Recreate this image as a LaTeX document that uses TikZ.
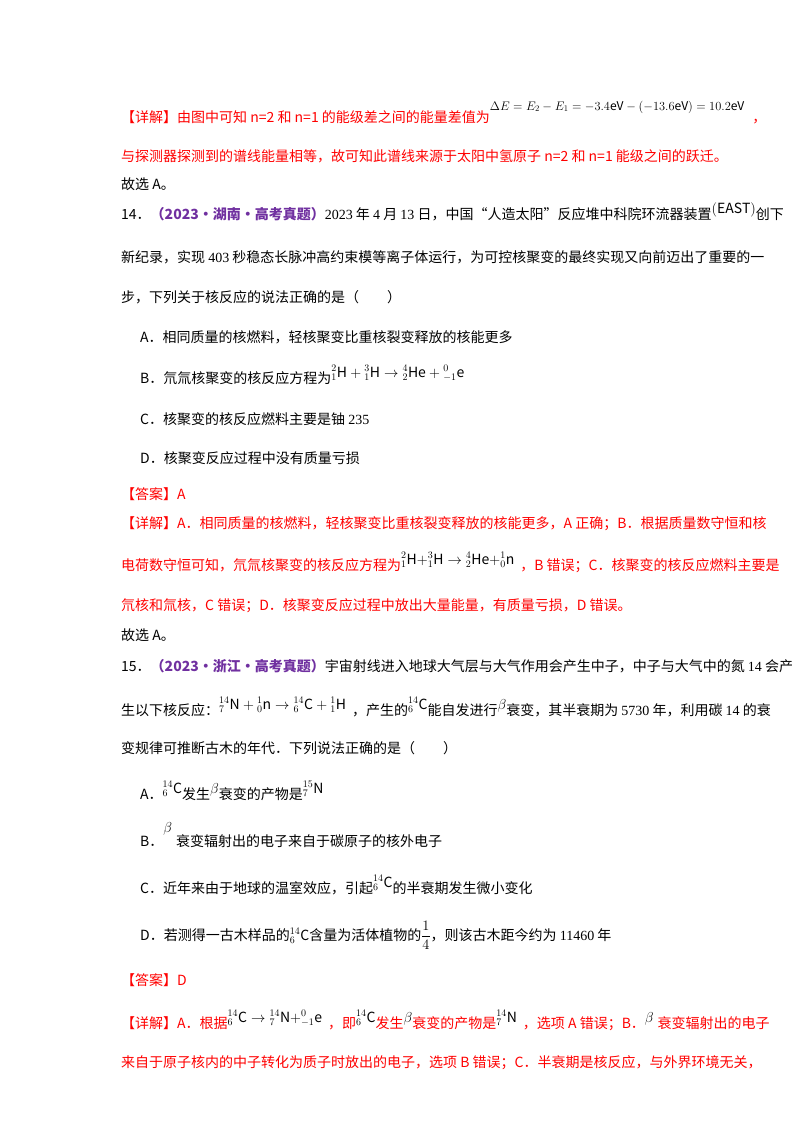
\documentclass[tikz,border=0pt]{standalone}
\usepackage{fontspec}
\setmainfont{Noto Sans CJK SC}
\newfontfamily\rom{Liberation Serif}
\usepackage{xcolor}
\usepackage{graphicx}
\definecolor{rd}{RGB}{255,0,0}
\definecolor{pu}{RGB}{112,48,160}
\newcommand{\nuc}[3]{{}^{#1}_{#2}\mathrm{#3}}
\newcommand{\fm}[2]{\raisebox{#1}{\color{black}$#2$}}
\begin{document}
\begin{tikzpicture}[x=1pt,y=-1pt,
  tl/.style={anchor=base west,inner sep=0pt,font=\fontsize{14}{16}\selectfont},
  rl/.style={tl,text=rd}]
\useasboundingbox (0,0) rectangle (800,1132);
\node[rl] (l1) at (121,122) {【详解】由图中可知 n=2 和 n=1 的能级差之间的能量差值为\raisebox{12pt}{\scalebox{0.86}{\color{black}$\Delta E=E_2-E_1=-3.4\mathrm{eV}-\left(-13.6\mathrm{eV}\right)=10.2\mathrm{eV}$}}\hspace{8pt}，};
\node[rl] (l2) at (121,161) {与探测器探测到的谱线能量相等，故可知此谱线来源于太阳中氢原子 n=2 和 n=1 能级之间的跃迁。};
\node[tl] (l3) at (121,189) {故选 A。};
\node[tl] (l4) at (121,219) {14．\textcolor{pu}{\bfseries（2023·湖南·高考真题）}{\rom 2023} 年 {\rom 4} 月 {\rom 13} 日，中国“人造太阳”反应堆中科院环流器装置\raisebox{6pt}{$(\mathrm{EAST})$}创下};
\node[tl] (l5) at (121,262) {新纪录，实现 {\rom 403} 秒稳态长脉冲高约束模等离子体运行，为可控核聚变的最终实现又向前迈出了重要的一};
\node[tl] (l6) at (121,302) {步，下列关于核反应的说法正确的是（　　）};
\node[tl] (a1) at (140,342) {A．相同质量的核燃料，轻核聚变比重核裂变释放的核能更多};
\node[tl] (a2) at (140,383) {B．氘氚核聚变的核反应方程为\fm{6pt}{\nuc{2}{1}{H}+\nuc{3}{1}{H}\rightarrow\nuc{4}{2}{He}+\nuc{0}{-1}{e}}};
\node[tl] (a3) at (140,424) {C．核聚变的核反应燃料主要是铀 {\rom 235}};
\node[tl] (a4) at (140,463) {D．核聚变反应过程中没有质量亏损};
\node[rl] (l7) at (121,499) {【答案】A};
\node[rl] (l8) at (121,528) {【详解】A．相同质量的核燃料，轻核聚变比重核裂变释放的核能更多，A 正确；B．根据质量数守恒和核};
\node[rl] (l9) at (121,570) {电荷数守恒可知，氘氚核聚变的核反应方程为\fm{6pt}{\nuc{2}{1}{H}{+}\nuc{3}{1}{H}\rightarrow\nuc{4}{2}{He}{+}\nuc{1}{0}{n}}\hspace{6pt}，B 错误；C．核聚变的核反应燃料主要是};
\node[rl] (l10) at (121,610) {氘核和氚核，C 错误；D．核聚变反应过程中放出大量能量，有质量亏损，D 错误。};
\node[tl] (l11) at (121,640) {故选 A。};
\node[tl] (l12) at (121,671) {15．\textcolor{pu}{\bfseries（2023·浙江·高考真题）}宇宙射线进入地球大气层与大气作用会产生中子，中子与大气中的氮 {\rom 14} 会产};
\node[tl] (l13) at (121,715) {生以下核反应：\fm{6pt}{\nuc{14}{7}{N}+\nuc{1}{0}{n}\rightarrow\nuc{14}{6}{C}+\nuc{1}{1}{H}}\hspace{6pt}，产生的\fm{6pt}{\nuc{14}{6}{C}}能自发进行\fm{6pt}{\beta}衰变，其半衰期为 {\rom 5730} 年，利用碳 {\rom 14} 的衰};
\node[tl] (l14) at (121,753) {变规律可推断古木的年代．下列说法正确的是（　　）};
\node[tl] (b1) at (140,799) {A．\fm{6pt}{\nuc{14}{6}{C}}发生\fm{6pt}{\beta}衰变的产物是\fm{6pt}{\nuc{15}{7}{N}}};
\node[tl] (b2) at (140,846) {B．\fm{14pt}{\beta}\hspace{4pt}衰变辐射出的电子来自于碳原子的核外电子};
\node[tl] (b3) at (140,893) {C．近年来由于地球的温室效应，引起\fm{6pt}{\nuc{14}{6}{C}}的半衰期发生微小变化};
\node[tl] (b4) at (140,940) {D．若测得一古木样品的$\nuc{14}{6}{C}$含量为活体植物的$\displaystyle\frac{1}{4}$，则该古木距今约为 {\rom 11460} 年};
\node[rl] (l15) at (121,985) {【答案】D};
\node[rl] (l16) at (121,1028) {【详解】A．根据\fm{6pt}{\nuc{14}{6}{C}\rightarrow\nuc{14}{7}{N}{+}\nuc{0}{-1}{e}}\hspace{6pt}，即\fm{6pt}{\nuc{14}{6}{C}}发生\fm{6pt}{\beta}衰变的产物是\fm{6pt}{\nuc{14}{7}{N}}\hspace{6pt}，选项 A 错误；B．\fm{6pt}{\beta}\hspace{4pt}衰变辐射出的电子};
\node[rl] (l17) at (121,1067) {来自于原子核内的中子转化为质子时放出的电子，选项 B 错误；C．半衰期是核反应，与外界环境无关，};
\end{tikzpicture}
\end{document}
